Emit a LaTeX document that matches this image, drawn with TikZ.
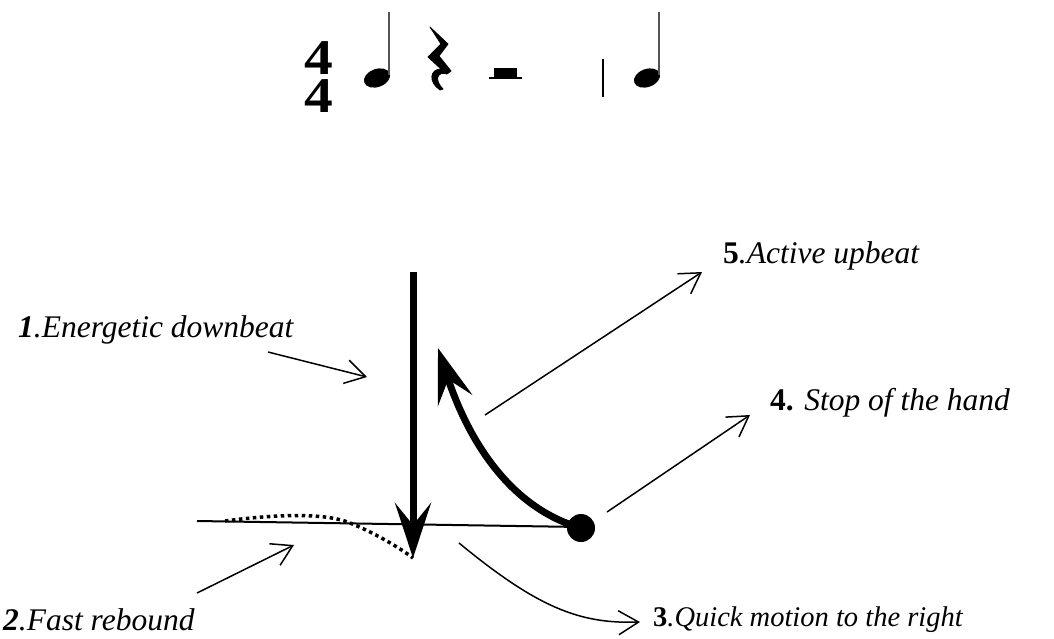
\documentclass[tikz,border=0pt]{standalone}
\usepackage{fontspec}
\setmainfont{Liberation Serif}
\usetikzlibrary{arrows.meta}
\definecolor{cdInk}{HTML}{000000}
\definecolor{cdStem}{HTML}{555555}
\newcommand{\CDType}{\fontsize{31.5}{36}\selectfont\itshape}
\newcommand{\CDMeter}{\fontsize{50}{38}\selectfont\bfseries\upshape}
\tikzset{cd/base/.style={x=1pt,y=-1pt,line cap=butt,line join=miter,
  every node/.style={font=\CDType,inner sep=0pt,text=cdInk}},
  cd/beat/.style={-{Stealth[length=55pt,width=36pt,inset=22pt]},draw=cdInk,line width=7pt},
  cd/pointer/.style={-{Straight Barb[length=20pt,width=24pt]},draw=cdInk,line width=1.5pt},
  cd/dots/.style={draw=cdInk,line width=3.5pt,dash pattern=on 3.5pt off 3.5pt},
  cd/stem/.style={draw=cdStem,line width=2pt}}

\begin{document}
\begin{tikzpicture}[cd/base]
  \useasboundingbox (0,0) rectangle (1054,638);
  \node[font=\CDMeter,align=center,xscale=1.15] (meter) at (319,77) {4\\4};
  \foreach \x in {377,647}{
    \fill[cdInk,rotate around={20:(\x,78)}] (\x,78) ellipse (13.5 and 9);
    \draw[cd/stem] ({\x+12},75)--({\x+12},12);}
  \filldraw[cdInk,line width=.8pt,line join=round] (430,27)--(448,44)--(439,56)--(451,71)--(447,74)
    .. controls (437,71) and (434,80) .. (443,89)--(440,90)
    .. controls (428,82) and (430,69) .. (441,69)--(428,57)--(441,44)--cycle;
  \fill[cdInk] (494,68) rectangle (517,77);
  \draw[cdInk,line width=1.5pt] (489,78)--(522,78);
  \draw[cdInk,line width=2pt] (603,59)--(603,97);
  \node[anchor=base west] (lbl1) at (18,337) {\textbf{1}.Energetic downbeat};
  \node[anchor=base west] (lbl2) at (3,630) {\textbf{2}.Fast rebound};
  \node[anchor=base west,font=\CDType\fontsize{28.5}{32}\selectfont] (lbl3) at (653,626)
    {\textbf{\upshape 3}.Quick motion to the right};
  \node[anchor=base west] (lbl4) at (770,410) {\textbf{\upshape 4.} Stop of the hand};
  \node[anchor=base west] (lbl5) at (723,263) {\textbf{\upshape 5}.Active upbeat};
  \coordinate (top) at (413,272);
  \coordinate (low) at (413,558);
  \coordinate (up) at (438,348);
  \coordinate (lineL) at (197,521);
  \coordinate (rebL) at (225,521);
  \coordinate (cross) at (350,523);
  \draw[cdInk,line width=2pt] (lineL)--(581,527);
  \node[circle,fill=cdInk,minimum size=28pt] (stop) at (581,528) {};
  \draw[cd/dots] (rebL) .. controls (285,513) and (330,514) .. (cross)
    .. controls (375,533) and (400,548) .. (low);
  \draw[cd/beat] (top)--(low);
  \draw[cd/beat] (stop.center) .. controls (510,508) and (468,440) .. (up);
  \coordinate (p1a) at (268,352); \coordinate (p1b) at (367,377);
  \coordinate (p2a) at (197,593); \coordinate (p2b) at (294,545);
  \coordinate (p3a) at (459,543); \coordinate (p3b) at (640,622);
  \coordinate (p4a) at (607,512); \coordinate (p4b) at (750,415);
  \coordinate (p5a) at (485,415); \coordinate (p5b) at (702,272);
  \foreach \n in {1,2,4,5}{\draw[cd/pointer] (p\n a)--(p\n b);}
  \draw[cd/pointer] (p3a) .. controls (538,608) and (580,624) .. (p3b);
\end{tikzpicture}
\end{document}
